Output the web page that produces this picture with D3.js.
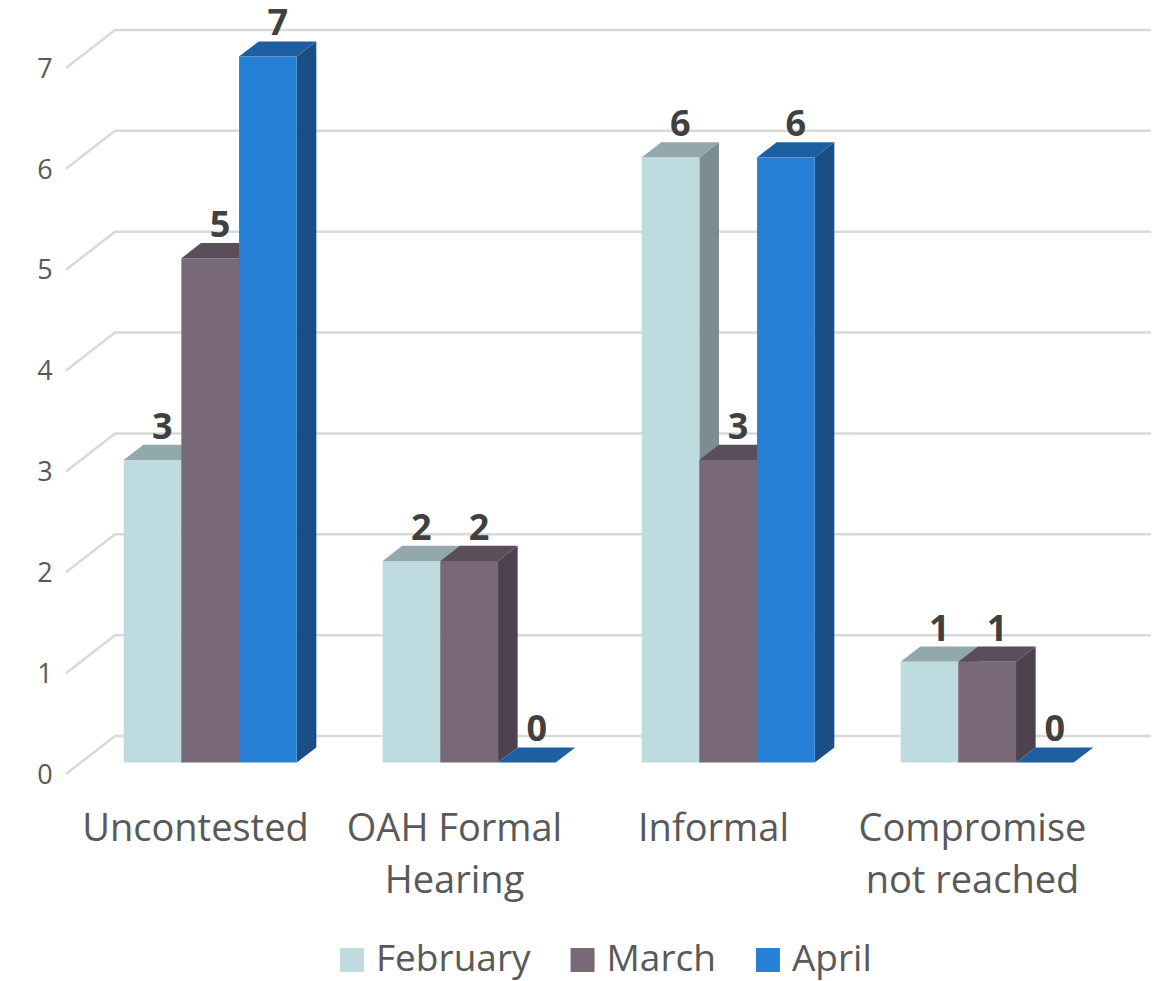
<!DOCTYPE html>
<html>
<head>
<meta charset="utf-8">
<script src="https://cdn.jsdelivr.net/npm/d3@7"></script>
<style>
  body { margin: 0; background: #fff; }
  text { font-family: "Open Sans", sans-serif; }
</style>
</head>
<body>
<div id="visContainer"></div>
<script>
var categories = [["Uncontested"], ["OAH Formal", "Hearing"], ["Informal"], ["Compromise", "not reached"]];
var seriesNames = ["February", "March", "April"];
var february = [3, 2, 6, 1];
var march = [5, 2, 3, 1];
var april = [7, 0, 6, 0];
var yTicks = [0, 1, 2, 3, 4, 5, 6, 7];

var seriesValues = [february, march, april];
var width = 1165, height = 981;

// colours: front, top, side
var palette = [
  { front: "#bedbdf", top: "#93a8ab", side: "#7b8d8f" },
  { front: "#786878", top: "#5b4e5b", side: "#4d424d" },
  { front: "#2680d6", top: "#1e5fa2", side: "#1b4e85" }
];

// oblique depth (z from 0 front to 1 back wall)
var depthX = 49, depthY = 38;
var barZ0 = 0.3, barZ1 = 0.7;

var svg = d3.select("#visContainer").append("svg")
    .attr("width", width)
    .attr("height", height);

var catKeys = categories.map(function(d) { return d.join(" "); });

var x0 = d3.scaleBand()
    .domain(catKeys)
    .range([66, 1102]);

var x1 = d3.scaleBand()
    .domain(seriesNames)
    .range([0, x0.bandwidth()])
    .paddingOuter(0.745)
    .paddingInner(0);

var y = d3.scaleLinear()
    .domain([0, 7])
    .range([774, 68]);

function proj(x, v, z) {
  return [x + depthX * z, y(v) - depthY * z];
}
function pts(arr) {
  return arr.map(function(p) { return p.join(","); }).join(" ");
}

// gridlines: side wall + back wall
var grid = svg.append("g");
yTicks.forEach(function(t) {
  grid.append("polyline")
      .attr("points", pts([proj(66, t, 0), proj(66, t, 1), proj(1102, t, 1)]))
      .attr("fill", "none")
      .attr("stroke", "#d9d9d9")
      .attr("stroke-width", 2.5);
});

// y tick labels
svg.append("g").selectAll("text")
  .data(yTicks)
  .enter().append("text")
    .attr("x", 45)
    .attr("y", function(d) { return y(d); })
    .attr("dy", "0.36em")
    .attr("text-anchor", "middle")
    .attr("fill", "#595959")
    .style("font-size", "27px")
    .text(function(d) { return d; });

// bars, left to right
var bars = svg.append("g");
var labels = svg.append("g");
catKeys.forEach(function(cat, ci) {
  seriesNames.forEach(function(s, si) {
    var v = seriesValues[si][ci];
    var xa = x0(cat) + x1(s);
    var xb = xa + x1.bandwidth();
    var c = palette[si];
    bars.append("polygon")
        .attr("points", pts([proj(xb, 0, barZ0), proj(xb, 0, barZ1), proj(xb, v, barZ1), proj(xb, v, barZ0)]))
        .attr("fill", c.side);
    bars.append("polygon")
        .attr("points", pts([proj(xa, v, barZ0), proj(xa, v, barZ1), proj(xb, v, barZ1), proj(xb, v, barZ0)]))
        .attr("fill", c.top);
    bars.append("polygon")
        .attr("points", pts([proj(xa, 0, barZ0), proj(xa, v, barZ0), proj(xb, v, barZ0), proj(xb, 0, barZ0)]))
        .attr("fill", c.front);
    var lp = proj((xa + xb) / 2, v, 0.5);
    labels.append("text")
        .attr("x", lp[0])
        .attr("y", proj(xa, v, barZ1)[1] - 6)
        .attr("text-anchor", "middle")
        .attr("fill", "#404040")
        .style("font-size", "36px")
        .style("font-weight", "bold")
        .text(v);
  });
});

// category labels
var cats = svg.append("g").selectAll("text")
  .data(categories)
  .enter().append("text")
    .attr("x", function(d) { return x0(d.join(" ")) + x0.bandwidth() / 2; })
    .attr("y", 841)
    .attr("text-anchor", "middle")
    .attr("fill", "#595959")
    .style("font-size", "38px");
cats.selectAll("tspan")
  .data(function(d) { return d; })
  .enter().append("tspan")
    .attr("x", function() { return d3.select(this.parentNode).attr("x"); })
    .attr("dy", function(d, i) { return i === 0 ? 0 : 52; })
    .text(function(d) { return d; });

// legend
var legend = svg.append("g");
var lx = 340;
seriesNames.forEach(function(s, i) {
  legend.append("rect")
      .attr("x", lx)
      .attr("y", 948)
      .attr("width", 24)
      .attr("height", 24)
      .attr("fill", palette[i].front);
  var t = legend.append("text")
      .attr("x", lx + 36)
      .attr("y", 971)
      .attr("fill", "#595959")
      .style("font-size", "37px")
      .text(s);
  lx = lx + 36 + t.node().getComputedTextLength() + 40;
});
</script>
</body>
</html>
